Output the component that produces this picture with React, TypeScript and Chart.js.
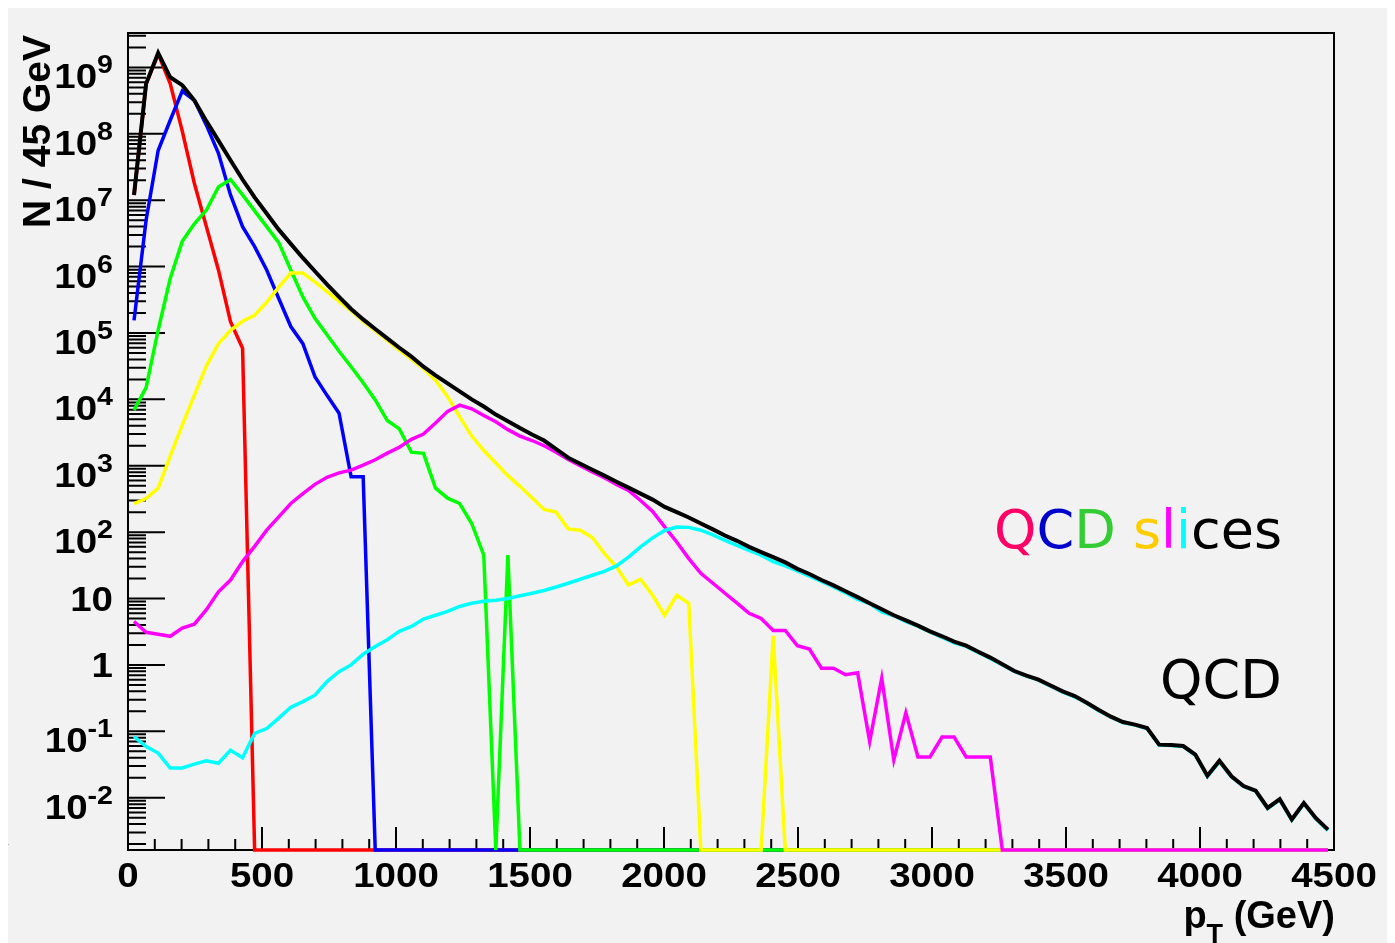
import React, { useEffect, useRef } from "react";
import { Chart, registerables } from "chart.js";

Chart.register(...registerables);

// ---------------- data (bins of 45 GeV) ----------------
const BIN_CENTERS = [
  22.5, 67.5, 112.5, 157.5, 202.5, 247.5, 292.5, 337.5, 382.5, 427.5,
  472.5, 517.5, 562.5, 607.5, 652.5, 697.5, 742.5, 787.5, 832.5, 877.5,
  922.5, 967.5, 1012.5, 1057.5, 1102.5, 1147.5, 1192.5, 1237.5, 1282.5, 1327.5,
  1372.5, 1417.5, 1462.5, 1507.5, 1552.5, 1597.5, 1642.5, 1687.5, 1732.5, 1777.5,
  1822.5, 1867.5, 1912.5, 1957.5, 2002.5, 2047.5, 2092.5, 2137.5, 2182.5, 2227.5,
  2272.5, 2317.5, 2362.5, 2407.5, 2452.5, 2497.5, 2542.5, 2587.5, 2632.5, 2677.5,
  2722.5, 2767.5, 2812.5, 2857.5, 2902.5, 2947.5, 2992.5, 3037.5, 3082.5, 3127.5,
  3172.5, 3217.5, 3262.5, 3307.5, 3352.5, 3397.5, 3442.5, 3487.5, 3532.5, 3577.5,
  3622.5, 3667.5, 3712.5, 3757.5, 3802.5, 3847.5, 3892.5, 3937.5, 3982.5, 4027.5,
  4072.5, 4117.5, 4162.5, 4207.5, 4252.5, 4297.5, 4342.5, 4387.5, 4432.5, 4477.5,
];

const QCD_TOTAL = [
  1.2e7, 5.7e8, 1.65e9, 7.1e8, 5.4e8, 3.2e8, 1.55e8, 7.9e7, 4.0e7, 2.05e7,
  1.1e7, 6.3e6, 3.6e6, 2.2e6, 1.35e6, 8.5e5, 5.4e5, 3.5e5, 2.3e5, 1.6e5,
  1.15e5, 8.3e4, 6.0e4, 4.4e4, 3.1e4, 2.3e4, 1.74e4, 1.32e4, 1.0e4, 7.8e3,
  5.9e3, 4.7e3, 3.7e3, 2.95e3, 2.4e3, 1.78e3, 1.32e3, 1.07e3, 870, 710,
  575, 468, 380, 309, 240, 200, 166, 135, 110, 89,
  74, 60, 50, 42, 35, 28, 23.4, 19, 15.8, 12.9,
  10.5, 8.5, 6.9, 5.6, 4.7, 3.9, 3.2, 2.7, 2.24, 1.95,
  1.58, 1.29, 1.02, 0.81, 0.69, 0.6, 0.49, 0.4, 0.34, 0.27,
  0.21, 0.166, 0.138, 0.126, 0.112, 0.063, 0.062, 0.06, 0.0446, 0.0214,
  0.036, 0.021, 0.015, 0.0128, 0.007, 0.0095, 0.0047, 0.0083, 0.0049, 0.0033,
];

const SLICE_RED = [
  1.2e7, 5.6e8, 1.6e9, 5.7e8, 1.1e8, 1.8e7, 4.0e6, 8.9e5, 1.48e5, 5.9e4,
  0, 0, 0, 0, 0, 0, 0, 0, 0, 0,
  0, 0, 0, 0, 0, 0, 0, 0, 0, 0,
  0, 0, 0, 0, 0, 0, 0, 0, 0, 0,
  0, 0, 0, 0, 0, 0, 0, 0, 0, 0,
  0, 0, 0, 0, 0, 0, 0, 0, 0, 0,
  0, 0, 0, 0, 0, 0, 0, 0, 0, 0,
  0, 0, 0, 0, 0, 0, 0, 0, 0, 0,
  0, 0, 0, 0, 0, 0, 0, 0, 0, 0,
  0, 0, 0, 0, 0, 0, 0, 0, 0, 0,
];

const SLICE_BLUE = [
  1.55e5, 5.0e6, 5.6e7, 1.6e8, 4.4e8, 3.2e8, 1.35e8, 5.1e7, 1.2e7, 4.0e6,
  2.0e6, 8.9e5, 3.3e5, 1.25e5, 6.9e4, 2.2e4, 1.15e4, 6.2e3, 680, 680,
  0, 0, 0, 0, 0, 0, 0, 0, 0, 0,
  0, 0, 0, 0, 0, 0, 0, 0, 0, 0,
  0, 0, 0, 0, 0, 0, 0, 0, 0, 0,
  0, 0, 0, 0, 0, 0, 0, 0, 0, 0,
  0, 0, 0, 0, 0, 0, 0, 0, 0, 0,
  0, 0, 0, 0, 0, 0, 0, 0, 0, 0,
  0, 0, 0, 0, 0, 0, 0, 0, 0, 0,
  0, 0, 0, 0, 0, 0, 0, 0, 0, 0,
];

const SLICE_GREEN = [
  6.9e3, 1.5e4, 1.1e5, 6.6e5, 2.4e6, 4.4e6, 7.1e6, 1.58e7, 2.05e7, 1.2e7,
  6.9e6, 4.0e6, 2.3e6, 8.9e5, 3.5e5, 1.66e5, 9.4e4, 5.3e4, 3.1e4, 1.78e4,
  9.8e3, 4.8e3, 3.6e3, 1.6e3, 1.54e3, 460, 325, 270, 135, 45,
  0, 45, 0, 0, 0, 0, 0, 0, 0, 0,
  0, 0, 0, 0, 0, 0, 0, 0, 0, 0,
  0, 0, 0, 0, 0, 0, 0, 0, 0, 0,
  0, 0, 0, 0, 0, 0, 0, 0, 0, 0,
  0, 0, 0, 0, 0, 0, 0, 0, 0, 0,
  0, 0, 0, 0, 0, 0, 0, 0, 0, 0,
  0, 0, 0, 0, 0, 0, 0, 0, 0, 0,
];

const SLICE_YELLOW = [
  270, 320, 460, 1.4e3, 4.1e3, 1.15e4, 3.2e4, 6.9e4, 1.1e5, 1.5e5,
  1.85e5, 2.9e5, 4.9e5, 8.0e5, 8.0e5, 5.9e5, 4.2e5, 3.0e5, 2.15e5, 1.5e5,
  1.08e5, 7.7e4, 5.5e4, 4.0e4, 2.9e4, 1.95e4, 1.1e4, 5.5e3, 2.8e3, 1.7e3,
  1.1e3, 710, 490, 330, 220, 200, 112, 107, 83, 48,
  30, 16, 19.5, 11.2, 5.6, 11.2, 8.5, 0, 0, 0,
  0, 0, 0, 2.75, 0, 0, 0, 0, 0, 0,
  0, 0, 0, 0, 0, 0, 0, 0, 0, 0,
  0, 0, 0, 0, 0, 0, 0, 0, 0, 0,
  0, 0, 0, 0, 0, 0, 0, 0, 0, 0,
  0, 0, 0, 0, 0, 0, 0, 0, 0, 0,
];

const SLICE_MAGENTA = [
  4.5, 3.1, 2.9, 2.7, 3.6, 4.1, 6.8, 12.6, 19, 36,
  61, 107, 170, 270, 380, 525, 670, 780, 860, 1.02e3,
  1.23e3, 1.55e3, 1.9e3, 2.5e3, 3.0e3, 4.4e3, 6.6e3, 8.2e3, 7.2e3, 5.7e3,
  4.6e3, 3.5e3, 2.8e3, 2.4e3, 2.0e3, 1.6e3, 1.24e3, 1.0e3, 810, 660,
  525, 425, 300, 205, 120, 71, 40, 24, 17, 12,
  8.5, 6.0, 5.0, 3.3, 3.3, 1.95, 1.73, 0.89, 0.89, 0.71,
  0.76, 0.07, 0.63, 0.037, 0.19, 0.041, 0.041, 0.082, 0.082, 0.041,
  0.041, 0.041, 0, 0, 0, 0, 0, 0, 0, 0,
  0, 0, 0, 0, 0, 0, 0, 0, 0, 0,
  0, 0, 0, 0, 0, 0, 0, 0, 0, 0,
];

const SLICE_CYAN = [
  0.083, 0.059, 0.047, 0.028, 0.028, 0.032, 0.036, 0.033, 0.052, 0.04,
  0.093, 0.11, 0.158, 0.23, 0.28, 0.35, 0.56, 0.79, 1.0, 1.45,
  1.9, 2.4, 3.2, 3.8, 4.9, 5.6, 6.4, 7.6, 8.5, 9.1,
  9.4, 10, 11, 12, 13.2, 14.9, 17, 19.5, 22.4, 25.7,
  31, 42, 60, 82, 106, 119, 118, 107, 91, 75,
  63, 53, 45, 36, 31, 26, 21.7, 18.1, 14.9, 12.2,
  9.7, 8.4, 6.3, 5.5, 4.5, 3.85, 3.15, 2.6, 2.15, 1.9,
  1.54, 1.25, 1.0, 0.8, 0.68, 0.59, 0.48, 0.39, 0.33, 0.265,
  0.205, 0.163, 0.135, 0.124, 0.11, 0.062, 0.061, 0.059, 0.044, 0.021,
  0.035, 0.0205, 0.0148, 0.0126, 0.0069, 0.0094, 0.0046, 0.0082, 0.0048, 0.0032,
];

// drawing order: first entry on top
const SERIES_LABELS = ["QCD", "slice 6", "slice 5", "slice 4", "slice 3", "slice 2", "slice 1"];
const SERIES_DATA = [QCD_TOTAL, SLICE_CYAN, SLICE_MAGENTA, SLICE_YELLOW, SLICE_GREEN, SLICE_BLUE, SLICE_RED];
const SERIES_COLORS = ["#000000", "#00ffff", "#ff00ff", "#ffff00", "#00ff00", "#0000ff", "#ff0000"];
const SERIES_WIDTHS = [4, 3.5, 3.5, 3.5, 3.5, 3.5, 3.5];

// ---------------- axes ----------------
const X_MIN = 0;
const X_MAX = 4500;
const Y_MIN = 1.63e-3;
const Y_MAX = 3.3e9;

const X_TICK_VALUES = [0, 500, 1000, 1500, 2000, 2500, 3000, 3500, 4000, 4500];
const X_TICK_LABELS = ["0", "500", "1000", "1500", "2000", "2500", "3000", "3500", "4000", "4500"];
const X_MINOR_STEP = 100;

const Y_TICK_VALUES = [1e-2, 1e-1, 1, 10, 1e2, 1e3, 1e4, 1e5, 1e6, 1e7, 1e8, 1e9];
const Y_TICK_BASES = ["10", "10", "1", "10", "10", "10", "10", "10", "10", "10", "10", "10"];
const Y_TICK_EXPS = ["-2", "-1", "", "", "2", "3", "4", "5", "6", "7", "8", "9"];

const X_TITLE_MAIN = "p";
const X_TITLE_SUB = "T";
const X_TITLE_REST = " (GeV)";
const Y_TITLE = "N / 45 GeV";

const ANNOT_SLICES = "QCD slices";
const ANNOT_SLICES_COLORS = ["#ff0066", "#0000cc", "#33cc33", "#000000", "#ffcc00", "#ff00ff", "#00ffff", "#000000", "#000000", "#000000"];
const ANNOT_QCD = "QCD";

// ---------------- style ----------------
const BG = "#f2f2f2";
const FONT = '"Liberation Sans", Arial, Helvetica, sans-serif';
const ANNOT_FONT = '"DejaVu Sans", "Liberation Sans", sans-serif';
const CANVAS_W = 1387;
const CANVAS_H = 935;
const LABEL_SIZE = 35;
const SUP_SIZE = 26;
const LABEL_SX = 1.1;

function drawText(ctx: CanvasRenderingContext2D, text: string, x: number, y: number, align: CanvasTextAlign, sx: number) {
  ctx.save();
  ctx.translate(x, y);
  ctx.scale(sx, 1);
  ctx.textAlign = align;
  ctx.textBaseline = "alphabetic";
  ctx.fillText(text, 0, 0);
  ctx.restore();
}

const rootStylePlugin = {
  id: "rootStyle",
  beforeDraw(chart: any) {
    const { ctx, width, height } = chart;
    ctx.save();
    ctx.fillStyle = BG;
    ctx.fillRect(0, 0, width, height);
    ctx.restore();
  },
  beforeDatasetsDraw(chart: any) {
    const { ctx, chartArea: a, scales } = chart;
    const xs = scales.x;
    const ys = scales.y;
    ctx.save();
    ctx.strokeStyle = "#000";
    ctx.lineWidth = 2;
    ctx.strokeRect(a.left, a.top, a.right - a.left, a.bottom - a.top);
    ctx.beginPath();
    for (let n = -3; n <= 9; n++) {
      for (let k = 1; k <= 9; k++) {
        const v = k * Math.pow(10, n);
        if (v < Y_MIN || v > Y_MAX) continue;
        const y = ys.getPixelForValue(v);
        const len = k === 1 ? 37 : 18;
        ctx.moveTo(a.left, y);
        ctx.lineTo(a.left + len, y);
      }
    }
    for (let v = X_MIN; v <= X_MAX; v += X_MINOR_STEP) {
      const x = xs.getPixelForValue(v);
      const len = X_TICK_VALUES.includes(v) ? 23 : 11;
      ctx.moveTo(x, a.bottom);
      ctx.lineTo(x, a.bottom - len);
    }
    ctx.stroke();
    ctx.restore();
  },
  afterDatasetsDraw(chart: any) {
    const { ctx, chartArea: a, scales } = chart;
    const xs = scales.x;
    const ys = scales.y;
    ctx.save();
    ctx.fillStyle = "#000";

    // x tick labels
    ctx.font = `bold ${LABEL_SIZE}px ${FONT}`;
    X_TICK_VALUES.forEach((v, i) => {
      drawText(ctx, X_TICK_LABELS[i], xs.getPixelForValue(v), a.bottom + 37, "center", LABEL_SX);
    });

    // y tick labels
    const rx = a.left - 15;
    Y_TICK_VALUES.forEach((v, i) => {
      const y = ys.getPixelForValue(v);
      const exp = Y_TICK_EXPS[i];
      if (exp) {
        ctx.font = `bold ${SUP_SIZE}px ${FONT}`;
        const w = ctx.measureText(exp).width * LABEL_SX;
        drawText(ctx, exp, rx, y + 6, "right", LABEL_SX);
        ctx.font = `bold ${LABEL_SIZE}px ${FONT}`;
        drawText(ctx, Y_TICK_BASES[i], rx - w, y + 21, "right", LABEL_SX);
      } else {
        ctx.font = `bold ${LABEL_SIZE}px ${FONT}`;
        drawText(ctx, Y_TICK_BASES[i], rx, y + 12, "right", LABEL_SX);
      }
    });

    // x title
    ctx.font = `bold 38px ${FONT}`;
    const wMain = ctx.measureText(X_TITLE_MAIN).width;
    const wRest = ctx.measureText(X_TITLE_REST).width;
    ctx.font = `bold 27px ${FONT}`;
    const wSub = ctx.measureText(X_TITLE_SUB).width;
    let tx = a.right + 1 - (wMain + wSub + wRest);
    ctx.font = `bold 38px ${FONT}`;
    drawText(ctx, X_TITLE_MAIN, tx, a.bottom + 78, "left", 1);
    tx += wMain;
    ctx.font = `bold 27px ${FONT}`;
    drawText(ctx, X_TITLE_SUB, tx, a.bottom + 93, "left", 1);
    tx += wSub;
    ctx.font = `bold 38px ${FONT}`;
    drawText(ctx, X_TITLE_REST, tx, a.bottom + 78, "left", 1);

    // y title
    ctx.save();
    ctx.translate(a.left - 78, a.top + 2);
    ctx.rotate(-Math.PI / 2);
    ctx.font = `bold 39px ${FONT}`;
    ctx.textAlign = "right";
    ctx.textBaseline = "alphabetic";
    ctx.fillText(Y_TITLE, 0, 0);
    ctx.restore();

    // annotations
    ctx.font = `54px ${ANNOT_FONT}`;
    let ax = a.left + 866;
    const ay = a.top + 515;
    for (let i = 0; i < ANNOT_SLICES.length; i++) {
      const ch = ANNOT_SLICES[i];
      ctx.fillStyle = ANNOT_SLICES_COLORS[i];
      drawText(ctx, ch, ax, ay, "left", 1);
      ax += ctx.measureText(ch).width;
    }
    ctx.fillStyle = "#000";
    drawText(ctx, ANNOT_QCD, a.left + 1032, a.top + 665, "left", 1);
    ctx.restore();
  },
};

export default function App() {
  const canvasRef = useRef<HTMLCanvasElement | null>(null);

  useEffect(() => {
    document.documentElement.style.overflow = "hidden";
    document.body.style.overflow = "hidden";
    const canvas = canvasRef.current;
    if (!canvas) return;
    const datasets = SERIES_DATA.map((arr, si) => ({
      label: SERIES_LABELS[si],
      data: BIN_CENTERS.map((x, i) => ({ x, y: arr[i] > 0 ? arr[i] : Y_MIN })),
      borderColor: SERIES_COLORS[si],
      backgroundColor: SERIES_COLORS[si],
      borderWidth: SERIES_WIDTHS[si],
      pointRadius: 0,
      pointHoverRadius: 0,
      tension: 0,
      fill: false,
      clip: false as any,
    }));
    const chart = new Chart(canvas, {
      type: "line",
      data: { datasets },
      options: {
        animation: false,
        responsive: false,
        maintainAspectRatio: false,
        events: [],
        layout: { autoPadding: false, padding: { left: 120, top: 25, right: 61, bottom: 93 } },
        plugins: {
          legend: { display: false },
          tooltip: { enabled: false },
          title: { display: false },
        },
        scales: {
          x: { type: "linear", min: X_MIN, max: X_MAX, display: false },
          y: { type: "logarithmic", min: Y_MIN, max: Y_MAX, display: false, bounds: "data" },
        },
      } as any,
      plugins: [rootStylePlugin as any],
    });
    return () => chart.destroy();
  }, []);

  return (
    <div style={{ position: "relative", width: CANVAS_W, height: CANVAS_H, background: BG }}>
      <canvas
        ref={canvasRef}
        width={CANVAS_W}
        height={CANVAS_H}
        style={{ display: "block", width: CANVAS_W, height: CANVAS_H }}
      />
      <span
        style={{
          position: "absolute",
          left: -12,
          top: 829,
          font: `25px ${FONT}`,
          lineHeight: "25px",
          color: "#000",
        }}
      >
        y
      </span>
    </div>
  );
}
